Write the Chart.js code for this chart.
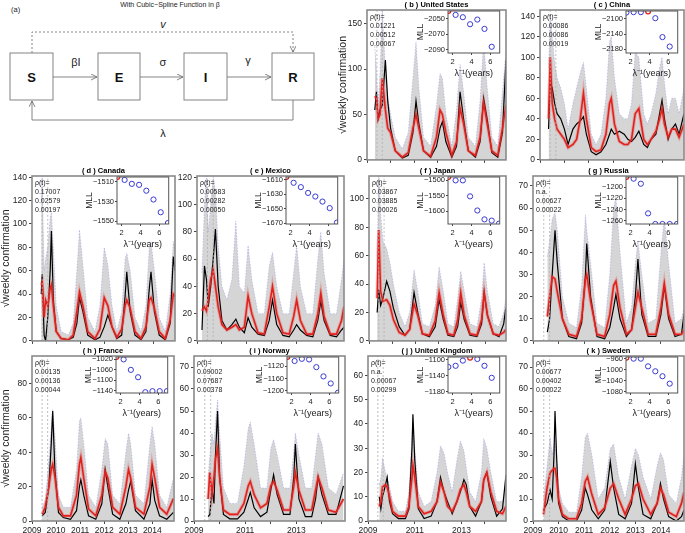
<!DOCTYPE html>
<html>
<head>
<meta charset="utf-8">
<script src="https://cdn.jsdelivr.net/npm/chart.js@4.4.1/dist/chart.umd.min.js"></script>
<style>
  body { margin: 0; background: #fff; width: 685px; height: 533px; overflow: hidden; position: relative;
         font-family: 'Liberation Sans', Arial, sans-serif; }
  canvas { position: absolute; }
  #diagram { position: absolute; left: 0; top: 0; }
</style>
</head>
<body>
<svg id="diagram" width="336" height="150" font-family="Liberation Sans, Arial, sans-serif">
  <defs>
    <marker id="ah" markerWidth="7" markerHeight="7" refX="6" refY="3" orient="auto" markerUnits="userSpaceOnUse">
      <path d="M0,0 L6,3 L0,6" fill="none" stroke="#666" stroke-width="0.8"/>
    </marker>
  </defs>
  <text x="170" y="7" font-size="7" text-anchor="middle" fill="#222">With Cubic−Spline Function in β</text>
  <text x="11" y="12" font-size="7.5" fill="#222">(a)</text>
  <g fill="#fff" stroke="#777" stroke-width="0.9">
    <rect x="10" y="53" width="43" height="47"/>
    <rect x="98" y="53" width="42" height="47"/>
    <rect x="184" y="53" width="43" height="47"/>
    <rect x="272" y="53" width="42" height="47"/>
  </g>
  <g font-size="13" font-weight="bold" text-anchor="middle" fill="#111">
    <text x="31.5" y="82">S</text>
    <text x="119" y="82">E</text>
    <text x="205.5" y="82">I</text>
    <text x="293" y="82">R</text>
  </g>
  <g stroke="#777" stroke-width="0.9" fill="none">
    <line x1="53" y1="77" x2="97" y2="77" marker-end="url(#ah)"/>
    <line x1="140" y1="77" x2="183" y2="77" marker-end="url(#ah)"/>
    <line x1="227" y1="77" x2="271" y2="77" marker-end="url(#ah)"/>
    <path d="M32,53 V32 H293 V52" stroke-dasharray="2,2" marker-end="url(#ah)"/>
    <path d="M293,100 V120 H32 V101" marker-end="url(#ah)"/>
  </g>
  <g font-size="11" text-anchor="middle" fill="#222">
    <text x="76" y="66">βI</text>
    <text x="163" y="66">σ</text>
    <text x="248" y="64">γ</text>
    <text x="163" y="28" font-style="italic">v</text>
    <text x="163" y="137">λ</text>
  </g>
</svg>
<script>
// ---------------- data ----------------
const years = [2009, 2010, 2011, 2012, 2013, 2014];
const oddYears = [2009, 2011, 2013];
const markerYears = [2009.42, 2009.65];
const lambdaInv = [1.54, 2.31, 3.08, 3.85, 4.62, 5.38, 6.15, 6.92];

// (b) United States
const usT   = [2009.33, 2009.4, 2009.47, 2009.55, 2009.65, 2009.78, 2009.88, 2010.0, 2010.2, 2010.5, 2010.75, 2010.95, 2011.08, 2011.2, 2011.4, 2011.7, 2011.95, 2012.1, 2012.2, 2012.35, 2012.6, 2012.8, 2012.95, 2013.1, 2013.3, 2013.6, 2013.8, 2013.95, 2014.1, 2014.3, 2014.55, 2014.75, 2014.9];
const usObs = [55, 75, 45, 55, 60, 110, 65, 35, 10, 2, 5, 30, 65, 40, 10, 3, 15, 35, 42, 20, 3, 15, 75, 45, 10, 3, 20, 68, 45, 8, 3, 30, 110];
const usFit = [70, 68, 45, 50, 90, 55, 35, 30, 10, 3, 8, 35, 50, 35, 10, 4, 25, 55, 50, 30, 5, 20, 57, 40, 10, 5, 25, 63, 40, 10, 5, 35, 60];
const usHi  = [125, 100, 60, 95, 165, 100, 70, 50, 25, 12, 30, 90, 130, 80, 25, 15, 60, 95, 90, 50, 15, 55, 105, 75, 25, 15, 65, 130, 80, 25, 15, 75, 120];
const usRho = ['0.01221', '0.00512', '0.00067'];
const usMll = [-2040, -2045, -2048, -2057, -2051, -2063, -2086, null];
const usMllTicks = [-2050, -2070, -2090];

// (c) China
const cnT   = [2009.35, 2009.42, 2009.5, 2009.6, 2009.7, 2009.85, 2010.0, 2010.15, 2010.35, 2010.5, 2010.65, 2010.78, 2010.9, 2011.1, 2011.3, 2011.5, 2011.7, 2011.85, 2011.92, 2012.05, 2012.25, 2012.45, 2012.6, 2012.75, 2012.9, 2013.05, 2013.25, 2013.4, 2013.55, 2013.75, 2013.9, 2014.0, 2014.1, 2014.25, 2014.4, 2014.55, 2014.7, 2014.9];
const cnObs = [30, 75, 70, 55, 45, 40, 30, 15, 30, 35, 38, 42, 25, 8, 5, 8, 15, 25, 30, 25, 28, 25, 20, 18, 22, 28, 15, 12, 20, 25, 45, 58, 40, 20, 30, 35, 25, 45];
const cnFit = [40, 100, 55, 40, 30, 25, 20, 12, 15, 20, 40, 65, 40, 12, 8, 10, 25, 55, 60, 35, 18, 15, 15, 20, 45, 50, 20, 15, 20, 28, 40, 50, 35, 22, 30, 30, 22, 35];
const cnHi  = [90, 140, 120, 95, 80, 70, 55, 30, 55, 70, 85, 95, 70, 25, 15, 25, 60, 115, 120, 80, 45, 40, 40, 55, 105, 100, 45, 35, 45, 65, 90, 100, 75, 45, 60, 60, 45, 70];
const cnRho = ['0.00086', '0.00086', '0.00019'];
const cnMll = [-2083, -2082, -2082, -2080, -2098, -2148, -2173, null];
const cnMllTicks = [-2100, -2140, -2180];

// (d) Canada
const caT   = [2009.38, 2009.42, 2009.5, 2009.56, 2009.65, 2009.75, 2009.8, 2009.88, 2010.0, 2010.2, 2010.5, 2010.7, 2010.85, 2010.96, 2011.1, 2011.3, 2011.6, 2011.8, 2011.98, 2012.13, 2012.3, 2012.5, 2012.7, 2012.84, 2012.91, 2013.05, 2013.25, 2013.5, 2013.7, 2013.84, 2013.91, 2014.05, 2014.25, 2014.5, 2014.7, 2014.83, 2014.9];
const caObs = [40, 57, 5, 0, 20, 60, 94, 35, 8, 2, 1, 3, 15, 37, 25, 5, 1, 3, 12, 22, 12, 2, 5, 38, 59, 25, 5, 1, 8, 45, 59, 25, 5, 1, 15, 72, 60];
const caFit = [48, 50, 20, 35, 30, 45, 48, 30, 8, 2, 1, 5, 25, 42, 30, 8, 2, 10, 37, 30, 12, 3, 10, 30, 35, 28, 8, 2, 12, 35, 37, 28, 8, 2, 18, 40, 38];
const caHi  = [120, 140, 60, 70, 80, 105, 110, 80, 30, 8, 5, 15, 60, 95, 65, 20, 8, 30, 80, 65, 30, 8, 25, 70, 75, 60, 20, 8, 30, 80, 85, 60, 20, 8, 40, 85, 80];
const caRho = ['0.17007', '0.02579', '0.00197'];
const caMll = [-1505, -1508, -1512, -1513, -1519, -1528, -1541, -1552];
const caMllTicks = [-1510, -1530, -1550];

// (e) Mexico
const mxT   = [2009.2, 2009.3, 2009.38, 2009.45, 2009.55, 2009.65, 2009.74, 2009.85, 2010.0, 2010.2, 2010.4, 2010.56, 2010.7, 2010.9, 2011.05, 2011.2, 2011.45, 2011.7, 2011.9, 2012.03, 2012.2, 2012.45, 2012.7, 2012.88, 2013.0, 2013.15, 2013.4, 2013.65, 2013.85, 2013.97, 2014.1, 2014.35, 2014.6, 2014.8, 2014.9];
const mxObs = [8, 55, 45, 25, 40, 60, 82, 40, 15, 8, 12, 16, 10, 6, 17, 10, 5, 4, 15, 30, 12, 4, 3, 8, 12, 8, 4, 3, 15, 29, 15, 4, 3, 8, 10];
const mxFit = [22, 25, 22, 30, 45, 52, 40, 25, 12, 8, 10, 12, 8, 10, 33, 20, 6, 5, 25, 40, 20, 6, 5, 18, 30, 15, 5, 5, 20, 35, 18, 5, 5, 15, 25];
const mxHi  = [50, 100, 120, 80, 100, 120, 110, 70, 40, 30, 45, 88, 40, 35, 70, 45, 20, 20, 55, 65, 40, 20, 20, 50, 70, 40, 20, 20, 60, 80, 50, 20, 20, 45, 60];
const mxRho = ['0.00583', '0.00282', '0.00050'];
const mxMll = [-1606, -1614, -1620, -1628, -1633, -1640, -1649, -1669];
const mxMllTicks = [-1610, -1630, -1650, -1670];

// (f) Japan
const jpT   = [2009.35, 2009.42, 2009.5, 2009.6, 2009.76, 2009.9, 2010.05, 2010.3, 2010.55, 2010.75, 2010.94, 2011.1, 2011.3, 2011.6, 2011.85, 2012.02, 2012.2, 2012.4, 2012.65, 2012.82, 2012.95, 2013.1, 2013.35, 2013.65, 2013.85, 2013.96, 2014.1, 2014.35, 2014.6, 2014.8, 2014.89];
const jpObs = [20, 36, 25, 30, 42, 35, 23, 10, 4, 8, 34, 20, 5, 3, 10, 29, 15, 4, 3, 10, 27, 15, 4, 3, 12, 34, 18, 5, 3, 12, 23];
const jpFit = [30, 78, 35, 28, 29, 25, 15, 6, 4, 8, 26, 18, 5, 4, 14, 34, 18, 5, 4, 15, 34, 18, 5, 4, 15, 34, 18, 5, 4, 6, 8];
const jpHi  = [60, 120, 90, 70, 65, 55, 40, 20, 10, 20, 50, 35, 12, 10, 25, 52, 35, 12, 10, 30, 49, 35, 12, 10, 30, 55, 35, 12, 10, 20, 30];
const jpRho = ['0.03867', '0.03885', '0.00026'];
const jpMll = [-1489, -1500, -1500, -1552, -1598, -1627, -1631, -1641];
const jpMllTicks = [-1500, -1550, -1600];

// (g) Russia
const ruT   = [2009.56, 2009.65, 2009.75, 2009.86, 2009.95, 2010.15, 2010.4, 2010.7, 2010.9, 2011.05, 2011.1, 2011.25, 2011.5, 2011.8, 2012.0, 2012.15, 2012.24, 2012.4, 2012.65, 2012.85, 2013.0, 2013.1, 2013.25, 2013.5, 2013.8, 2014.0, 2014.13, 2014.3, 2014.55, 2014.8, 2014.9];
const ruObs = [4, 10, 30, 50, 35, 10, 2, 1, 8, 30, 44, 20, 2, 1, 6, 15, 21, 10, 2, 5, 20, 37, 12, 2, 2, 12, 25, 10, 2, 3, 12];
const ruFit = [11, 20, 29, 28, 22, 10, 3, 2, 10, 28, 30, 18, 3, 2, 12, 25, 27, 15, 3, 5, 15, 22, 15, 3, 3, 15, 26, 12, 3, 3, 5];
const ruHi  = [38, 45, 55, 58, 50, 20, 8, 6, 25, 57, 50, 35, 8, 6, 30, 60, 65, 40, 8, 15, 35, 45, 30, 8, 10, 40, 56, 35, 8, 10, 15];
const ruRho = ['n.a.', '0.00627', '0.00022'];
const ruMll = [-1182, -1185, -1194, -1247, -1266, -1266, -1266, -1266];
const ruMllTicks = [-1200, -1220, -1240, -1260];

// (h) France
const frT   = [2009.42, 2009.55, 2009.7, 2009.8, 2009.86, 2009.95, 2010.1, 2010.3, 2010.6, 2010.85, 2010.97, 2011.03, 2011.15, 2011.35, 2011.65, 2011.9, 2012.04, 2012.15, 2012.35, 2012.65, 2012.9, 2013.01, 2013.1, 2013.3, 2013.65, 2013.9, 2013.99, 2014.1, 2014.3, 2014.6, 2014.875];
const frObs = [3, 5, 20, 45, 64, 30, 5, 2, 1, 6, 20, 24, 15, 3, 1, 10, 30, 20, 4, 1, 10, 18, 23, 6, 1, 10, 24, 12, 3, 1, 5];
const frFit = [4, 8, 20, 30, 33, 26, 8, 3, 3, 15, 33, 37, 25, 7, 3, 15, 29, 25, 8, 4, 20, 30, 25, 8, 4, 20, 33, 25, 8, 4, 13];
const frHi  = [8, 12, 35, 55, 65, 50, 15, 8, 8, 30, 58, 60, 45, 15, 8, 30, 48, 45, 15, 10, 40, 51, 45, 15, 10, 45, 55, 45, 15, 8, 25];
const frRho = ['0.00135', '0.00136', '0.00044'];
const frMll = [-1011, -1020, -1060, -1088, -1145, -1141, -1141, -1141];
const frMllTicks = [-1020, -1060, -1100, -1140];

// (i) Norway
const noT   = [2009.55, 2009.62, 2009.7, 2009.78, 2009.84, 2009.92, 2010.0, 2010.15, 2010.4, 2010.7, 2010.95, 2011.12, 2011.2, 2011.35, 2011.6, 2011.85, 2012.0, 2012.11, 2012.25, 2012.5, 2012.75, 2012.9, 2012.96, 2013.1, 2013.35, 2013.6, 2013.75, 2013.85, 2014.0, 2014.25, 2014.55, 2014.84];
const noObs = [2, 3, 15, 8, 30, 50, 20, 3, 1, 1, 4, 10, 13, 6, 2, 4, 14, 21, 12, 3, 3, 20, 35, 10, 2, 2, 10, 20, 12, 3, 3, 16];
const noFit = [10, 22, 12, 20, 28, 33, 20, 5, 3, 3, 8, 16, 18, 12, 6, 8, 16, 18, 14, 5, 5, 16, 22, 14, 5, 5, 14, 20, 15, 5, 4, 10];
const noHi  = [20, 30, 40, 35, 45, 55, 40, 15, 8, 8, 25, 42, 45, 35, 15, 15, 33, 37, 30, 15, 15, 32, 40, 30, 15, 15, 30, 40, 35, 15, 12, 22];
const noRho = ['0.09002', '0.07687', '0.00378'];
const noMll = [-1090, -1103, -1096, -1098, -1123, -1153, -1176, -1206];
const noMllTicks = [-1120, -1160, -1200];

// (j) United Kingdom
const ukT   = [2009.48, 2009.55, 2009.62, 2009.75, 2009.82, 2009.92, 2010.05, 2010.3, 2010.6, 2010.75, 2010.88, 2010.92, 2011.0, 2011.15, 2011.4, 2011.7, 2011.95, 2012.1, 2012.25, 2012.4, 2012.6, 2012.8, 2012.95, 2013.1, 2013.2, 2013.35, 2013.6, 2013.85, 2013.95, 2014.08, 2014.25, 2014.5, 2014.75, 2014.9];
const ukObs = [10, 5, 10, 15, 18, 8, 3, 1, 1, 5, 30, 44, 25, 5, 1, 2, 8, 18, 12, 8, 3, 8, 12, 17, 15, 6, 2, 8, 17, 20, 10, 2, 5, 19];
const ukFit = [6, 8, 14, 15, 14, 10, 4, 2, 2, 6, 18, 23, 18, 6, 3, 4, 8, 16, 12, 6, 4, 8, 13, 15, 12, 6, 4, 8, 17, 20, 12, 4, 3, 6];
const ukHi  = [15, 18, 26, 20, 18, 14, 8, 4, 4, 12, 35, 40, 30, 12, 6, 8, 20, 31, 28, 20, 12, 25, 33, 29, 22, 12, 8, 20, 34, 30, 20, 8, 8, 15];
const ukRho = ['n.a.', '0.00067', '0.00299'];
const ukMll = [-1118, -1115, -1102, -1095, -1098, -1115, -1145, null];
const ukMllTicks = [-1100, -1140, -1180];

// (k) Sweden
const seT   = [2009.41, 2009.55, 2009.67, 2009.75, 2009.82, 2009.86, 2009.92, 2010.0, 2010.15, 2010.4, 2010.7, 2010.9, 2011.04, 2011.13, 2011.3, 2011.55, 2011.8, 2012.02, 2012.15, 2012.35, 2012.6, 2012.85, 2013.0, 2013.12, 2013.3, 2013.6, 2013.85, 2013.98, 2014.1, 2014.3, 2014.6, 2014.8, 2014.9];
const seObs = [5, 8, 14, 10, 30, 50, 30, 8, 2, 0, 0, 5, 15, 12, 5, 1, 5, 27, 15, 3, 1, 8, 26, 15, 3, 1, 8, 17, 10, 2, 0, 2, 5];
const seFit = [3, 15, 22, 23, 24, 24, 20, 10, 3, 1, 1, 8, 18, 20, 12, 3, 6, 15, 17, 10, 3, 10, 16, 17, 10, 3, 8, 15, 12, 4, 2, 8, 13];
const seHi  = [10, 25, 38, 30, 35, 37, 30, 15, 8, 4, 4, 20, 38, 40, 30, 10, 15, 33, 35, 20, 10, 25, 33, 30, 20, 10, 25, 31, 28, 12, 8, 20, 30];
const seRho = ['0.00677', '0.00402', '0.00022'];
const seMll = [-957, -960, -960, -988, -1006, -1024, -1051, null];
const seMllTicks = [-960, -1000, -1040, -1080];

// ---------------- panels ----------------
const panels = [
  { title: '( b ) United States', t: usT, obs: usObs, fit: usFit, hi: usHi, yMax: 165, yStep: 50, rho: usRho, mll: usMll, best: 0, mllTicks: usMllTicks, mllMin: -2094, mllMax: -2040 },
  { title: '( c ) China', t: cnT, obs: cnObs, fit: cnFit, hi: cnHi, yMax: 146, yStep: 20, rho: cnRho, mll: cnMll, best: 3, mllTicks: cnMllTicks, mllMin: -2190, mllMax: -2079 },
  { title: '( d ) Canada', t: caT, obs: caObs, fit: caFit, hi: caHi, yMax: 141, yStep: 20, rho: caRho, mll: caMll, best: 0, mllTicks: caMllTicks, mllMin: -1553, mllMax: -1505 },
  { title: '( e ) Mexico', t: mxT, obs: mxObs, fit: mxFit, hi: mxHi, yMax: 121, yStep: 20, rho: mxRho, mll: mxMll, best: 0, mllTicks: mxMllTicks, mllMin: -1671, mllMax: -1606 },
  { title: '( f ) Japan', t: jpT, obs: jpObs, fit: jpFit, hi: jpHi, yMax: 116, yStep: 20, rho: jpRho, mll: jpMll, best: 0, mllTicks: jpMllTicks, mllMin: -1642, mllMax: -1489 },
  { title: '( g ) Russia', t: ruT, obs: ruObs, fit: ruFit, hi: ruHi, yMax: 74.5, yStep: 10, rho: ruRho, mll: ruMll, best: 0, mllTicks: ruMllTicks, mllMin: -1266, mllMax: -1182 },
  { title: '( h ) France', t: frT, obs: frObs, fit: frFit, hi: frHi, yMax: 96, yStep: 20, rho: frRho, mll: frMll, best: 0, mllTicks: frMllTicks, mllMin: -1148, mllMax: -1011 },
  { title: '( i ) Norway', t: noT, obs: noObs, fit: noFit, hi: noHi, yMax: 75, yStep: 10, rho: noRho, mll: noMll, best: 0, mllTicks: noMllTicks, mllMin: -1207, mllMax: -1090 },
  { title: '( j ) United Kingdom', t: ukT, obs: ukObs, fit: ukFit, hi: ukHi, yMax: 68, yStep: 10, rho: ukRho, mll: ukMll, best: 3, mllTicks: ukMllTicks, mllMin: -1183, mllMax: -1093 },
  { title: '( k ) Sweden', t: seT, obs: seObs, fit: seFit, hi: seHi, yMax: 75, yStep: 10, rho: seRho, mll: seMll, best: 0, mllTicks: seMllTicks, mllMin: -1085, mllMax: -954 }
];

// plot-area placement on the page
const layout = [
  { L: 367, R: 506, T: 10,  B: 161, yW: 30, row: 0, yTitle: true,  xLab: null },
  { L: 540, R: 684, T: 10,  B: 161, yW: 24, row: 0, yTitle: false, xLab: null },
  { L: 32,  R: 175, T: 176, B: 342, yW: 32, row: 1, yTitle: true,  xLab: null },
  { L: 197, R: 344, T: 176, B: 342, yW: 24, row: 1, yTitle: false, xLab: null },
  { L: 369, R: 506, T: 176, B: 342, yW: 24, row: 1, yTitle: false, xLab: null },
  { L: 533, R: 684, T: 176, B: 342, yW: 24, row: 1, yTitle: false, xLab: null },
  { L: 32,  R: 174, T: 356, B: 521, yW: 32, row: 2, yTitle: true,  xLab: years },
  { L: 194, R: 345, T: 356, B: 521, yW: 24, row: 2, yTitle: false, xLab: oddYears },
  { L: 368, R: 506, T: 356, B: 521, yW: 24, row: 2, yTitle: false, xLab: oddYears },
  { L: 533, R: 684, T: 356, B: 521, yW: 24, row: 2, yTitle: false, xLab: years }
];

Chart.defaults.font.family = "'Liberation Sans', Arial, sans-serif";
Chart.defaults.color = '#222';

function addCanvas(left, top, w, h, z) {
  const c = document.createElement('canvas');
  c.width = w; c.height = h;
  c.style.left = left + 'px'; c.style.top = top + 'px'; c.style.zIndex = z;
  document.body.appendChild(c);
  return c;
}

const framePlugin = {
  id: 'frame',
  afterDraw(chart) {
    const a = chart.chartArea, ctx = chart.ctx;
    ctx.save();
    ctx.strokeStyle = '#8a8a8a'; ctx.lineWidth = 1.6;
    ctx.strokeRect(a.left, a.top, a.right - a.left, a.bottom - a.top);
    ctx.restore();
  }
};

function rhoPlugin(rho) {
  return {
    id: 'rho',
    afterDraw(chart) {
      const a = chart.chartArea, ctx = chart.ctx;
      ctx.save();
      ctx.font = "7px 'Liberation Sans', Arial, sans-serif";
      ctx.fillStyle = '#222';
      ['ρ(t)='].concat(rho).forEach((s, i) => ctx.fillText(s, a.left + 3, a.top + 9 + i * 9));
      ctx.restore();
    }
  };
}

const insetBox = {
  id: 'insetBox',
  beforeDraw(chart) {
    const a = chart.chartArea, ctx = chart.ctx;
    ctx.save(); ctx.fillStyle = '#fff';
    ctx.fillRect(a.left, a.top, a.right - a.left, a.bottom - a.top);
    ctx.restore();
  },
  afterDraw(chart) {
    const a = chart.chartArea, ctx = chart.ctx;
    ctx.save(); ctx.strokeStyle = '#555'; ctx.lineWidth = 1;
    ctx.strokeRect(a.left, a.top, a.right - a.left, a.bottom - a.top);
    ctx.restore();
  }
};

const tickGrid = { display: true, drawOnChartArea: false, drawTicks: true, tickLength: 3, color: '#444' };

function makeMain(p, g) {
  const left = g.L - g.yW, top = g.T - 14;
  const xh = g.row === 2 ? 15 : 6;
  const c = addCanvas(left, top, g.R - left + 1, g.B + xh - top, 1);
  const pts = arr => p.t.map((x, i) => ({ x: x, y: arr[i] }));
  const markers = markerYears.map(v => ({
    data: [{ x: v, y: 0 }, { x: v, y: p.yMax }],
    borderColor: '#b0b0b0', borderWidth: 0.8, borderDash: [2, 2], pointRadius: 0, order: 0
  }));
  new Chart(c, {
    type: 'line',
    data: { datasets: markers.concat([
      { data: pts(p.hi), fill: 'origin', backgroundColor: '#d5d5d5', borderColor: 'rgba(120,120,230,0.45)',
        borderWidth: 0.8, borderDash: [1.5, 1.5], pointRadius: 0, order: 5 },
      { data: pts(p.obs), borderColor: '#000', borderWidth: 1.2, pointRadius: 0, order: 3 },
      { data: pts(p.fit), borderColor: 'rgba(235,70,70,0.3)', borderWidth: 3.5, pointRadius: 0, order: 2 },
      { data: pts(p.fit), borderColor: '#e3211c', borderWidth: 1.6, pointRadius: 0, order: 1 }
    ]) },
    options: {
      responsive: false, animation: false, devicePixelRatio: 1, events: [],
      layout: { padding: { top: 0, right: 1, bottom: 0, left: 0 } },
      plugins: {
        legend: { display: false }, tooltip: { enabled: false },
        title: { display: true, text: p.title, fullSize: false, color: '#000',
                 font: { size: 7.5, weight: 'bold' }, padding: { top: 4, bottom: 1 } }
      },
      scales: {
        x: {
          type: 'linear', min: 2009, max: 2014.9,
          ticks: { stepSize: 1, includeBounds: false, autoSkip: false, maxRotation: 0, padding: 2,
                   font: { size: 8.5 }, callback: v => (g.xLab && g.xLab.includes(v)) ? String(v) : '' },
          grid: tickGrid, border: { display: false },
          afterFit: s => { s.height = xh; }
        },
        y: {
          min: 0, max: p.yMax,
          ticks: { stepSize: p.yStep, includeBounds: false, padding: 2, font: { size: 8.5 } },
          grid: tickGrid, border: { display: false },
          title: { display: g.yTitle, text: '√weekly confirmation', font: { size: 10.5 }, padding: 0 },
          afterFit: s => { s.width = g.yW; }
        }
      }
    },
    plugins: [framePlugin, rhoPlugin(p.rho)]
  });
}

function makeInset(p, g) {
  const boxH = [42, 47, 36][g.row], boxW = 56;
  const boxL = g.R - 2 - boxW, boxT = g.T + 1;
  const yW = 32, xH = 26, padT = 6;
  const c = addCanvas(boxL - yW, boxT - padT, yW + boxW + 1, padT + boxH + xH, 2);
  const blue = lambdaInv.map((x, i) => ({ x: x, y: p.mll[i] })).filter((d, i) => d.y !== null && i !== p.best);
  const best = [{ x: lambdaInv[p.best], y: p.mll[p.best] }];
  new Chart(c, {
    type: 'scatter',
    data: { datasets: [
      { data: best, pointRadius: 2.4, pointBorderColor: '#e3211c', pointBackgroundColor: 'rgba(0,0,0,0)', pointBorderWidth: 1.3, order: 0 },
      { data: blue, pointRadius: 2.6, pointBorderColor: '#3a3ad6', pointBackgroundColor: 'rgba(0,0,0,0)', pointBorderWidth: 1, order: 1 }
    ] },
    options: {
      responsive: false, animation: false, devicePixelRatio: 1, events: [],
      layout: { padding: { top: padT, right: 1, bottom: 0, left: 0 } },
      plugins: { legend: { display: false }, tooltip: { enabled: false } },
      scales: {
        x: {
          type: 'linear', min: 1.5, max: 7.0,
          ticks: { stepSize: 2, includeBounds: false, padding: 2, font: { size: 7.5 }, callback: v => String(v) },
          grid: { display: true, drawOnChartArea: false, drawTicks: true, tickLength: 2, color: '#444' },
          border: { display: false },
          title: { display: true, text: 'λ⁻¹(years)', font: { size: 9 }, padding: { top: 1, bottom: 0 } },
          afterFit: s => { s.height = xH; }
        },
        y: {
          min: p.mllMin, max: p.mllMax,
          afterBuildTicks: s => { s.ticks = p.mllTicks.map(v => ({ value: v })); },
          ticks: { padding: 1, font: { size: 7.5 }, callback: v => (v < 0 ? '−' : '') + Math.abs(v) },
          grid: { display: true, drawOnChartArea: false, drawTicks: true, tickLength: 2, color: '#444' },
          border: { display: false },
          title: { display: true, text: 'MLL', font: { size: 8.5 }, padding: 0 },
          afterFit: s => { s.width = yW; }
        }
      }
    },
    plugins: [insetBox]
  });
}

panels.forEach((p, i) => { makeMain(p, layout[i]); makeInset(p, layout[i]); });
</script>
</body>
</html>
